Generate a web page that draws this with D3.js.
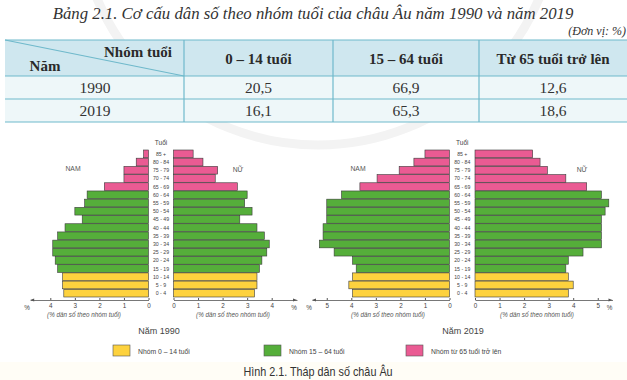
<!DOCTYPE html>
<html>
<head>
<meta charset="utf-8">
<script src="https://cdn.jsdelivr.net/npm/d3@7"></script>
<style>
  html, body { margin: 0; padding: 0; background: #ffffff; }
  svg { display: block; }
</style>
</head>
<body>
<svg id="chart" width="627" height="380"></svg>
<script>
// ---------- DATA ----------
const tableTitle = "Bảng 2.1. Cơ cấu dân số theo nhóm tuổi của châu Âu năm 1990 và năm 2019";
const tableUnit = "(Đơn vị: %)";
const tableColumns = ["0 – 14  tuổi", "15 – 64 tuổi", "Từ 65 tuổi trở lên"];
const tableYears = ["1990", "2019"];
const share0to14 = [20.5, 16.1];
const share15to64 = [66.9, 65.3];
const share65plus = [12.6, 18.6];

const ageGroups = ["0 - 4", "5 - 9", "10 - 14", "15 - 19", "20 - 24", "25 - 29", "30 - 34",
  "35 - 39", "40 - 44", "45 - 49", "50 - 54", "55 - 59", "60 - 64", "65 - 69", "70 - 74",
  "75 - 79", "80 - 84", "85 +"];
const male1990   = [3.45, 3.5, 3.5, 3.7, 3.8, 3.9, 3.9, 3.7, 3.4, 2.7, 3.0, 2.6, 2.5, 1.8, 1.0, 1.0, 0.5, 0.2];
const female1990 = [3.3, 3.4, 3.4, 3.5, 3.6, 3.8, 3.9, 3.7, 3.4, 2.7, 3.2, 2.9, 3.0, 2.6, 1.7, 1.8, 1.2, 0.8];
const male2019   = [3.95, 4.1, 3.95, 3.8, 3.95, 4.7, 5.3, 5.15, 5.15, 5.0, 5.0, 5.0, 4.4, 3.65, 2.95, 2.05, 1.45, 1.0];
const female2019 = [3.8, 4.0, 3.8, 3.7, 3.8, 4.4, 5.15, 5.15, 5.15, 5.15, 5.3, 5.45, 5.15, 4.55, 3.7, 2.95, 2.65, 2.35];
const groupOfAge = ["young", "young", "young", "work", "work", "work", "work", "work", "work",
  "work", "work", "work", "work", "old", "old", "old", "old", "old"];
const legendKeys = ["young", "work", "old"];
const legendLabels = ["Nhóm 0 – 14 tuổi", "Nhóm 15 – 64 tuổi", "Nhóm từ 65 tuổi trở lên"];
const ticks1990 = [0, 1, 2, 3, 4];
const ticks2019 = [0, 1, 2, 3, 4, 5];
const figureCaption = "Hình 2.1. Tháp dân số châu Âu";

// ---------- SETUP ----------
const svg = d3.select("#chart");
const color = d3.scaleOrdinal().domain(legendKeys).range(["#fdd23e", "#55ae3a", "#ea5b93"]);
const serif = "'Liberation Serif', 'DejaVu Serif', serif";
const sans = "'Liberation Sans', Arial, sans-serif";

// faint watermark arc
svg.append("circle").attr("cx", 318).attr("cy", -95).attr("r", 240)
  .attr("fill", "none").attr("stroke", "#f3f3f3").attr("stroke-width", 9);
svg.append("rect").attr("x", 0).attr("y", 362).attr("width", 627).attr("height", 18).attr("fill", "#fffdf6");

// ---------- TABLE ----------
svg.append("text").attr("x", 313).attr("y", 19).attr("text-anchor", "middle")
  .attr("font-family", serif).attr("font-style", "italic").attr("font-size", 16.8)
  .attr("fill", "#333").text(tableTitle);
svg.append("text").attr("x", 626).attr("y", 35).attr("text-anchor", "end")
  .attr("font-family", serif).attr("font-style", "italic").attr("font-size", 12)
  .attr("fill", "#333").text(tableUnit);

const colEdges = [5, 184, 333, 479, 627];
const rowEdges = [40, 76, 99, 122];
const tbl = svg.append("g");
tbl.append("rect").attr("x", colEdges[0]).attr("y", rowEdges[0]).attr("width", colEdges[4] - colEdges[0])
  .attr("height", rowEdges[1] - rowEdges[0]).attr("fill", "#cfe7ef");
tbl.append("rect").attr("x", colEdges[0]).attr("y", rowEdges[1]).attr("width", colEdges[4] - colEdges[0])
  .attr("height", rowEdges[3] - rowEdges[1]).attr("fill", "#eef7f9");
const lineColor = "#6fb9cb";
rowEdges.forEach(y => tbl.append("line").attr("x1", colEdges[0]).attr("x2", colEdges[4])
  .attr("y1", y).attr("y2", y).attr("stroke", lineColor).attr("stroke-width", 1.2));
colEdges.slice(1, 4).forEach(x => tbl.append("line").attr("x1", x).attr("x2", x)
  .attr("y1", rowEdges[0]).attr("y2", rowEdges[3]).attr("stroke", lineColor).attr("stroke-width", 1.2));
tbl.append("line").attr("x1", colEdges[0]).attr("y1", rowEdges[0]).attr("x2", colEdges[1]).attr("y2", rowEdges[1])
  .attr("stroke", lineColor).attr("stroke-width", 1.2);

tbl.append("text").attr("x", 138).attr("y", 57).attr("text-anchor", "middle")
  .attr("font-family", serif).attr("font-weight", "bold").attr("font-size", 15).attr("fill", "#2a2a2a").text("Nhóm tuổi");
tbl.append("text").attr("x", 45).attr("y", 71).attr("text-anchor", "middle")
  .attr("font-family", serif).attr("font-weight", "bold").attr("font-size", 15).attr("fill", "#2a2a2a").text("Năm");
tableColumns.forEach((c, i) => {
  tbl.append("text").attr("x", (colEdges[i + 1] + colEdges[i + 2]) / 2).attr("y", 64)
    .attr("text-anchor", "middle").attr("font-family", serif).attr("font-weight", "bold")
    .attr("font-size", 15).attr("fill", "#2a2a2a").text(c);
});
const fmt = v => d3.format(".1f")(v).replace(".", ",");
tableYears.forEach((yr, r) => {
  const yText = (rowEdges[r + 1] + rowEdges[r + 2]) / 2 + 5;
  const vals = [yr, fmt(share0to14[r]), fmt(share15to64[r]), fmt(share65plus[r])];
  vals.forEach((v, c) => {
    const cx = c === 0 ? 95 : (colEdges[c] + colEdges[c + 1]) / 2;
    tbl.append("text").attr("x", cx).attr("y", yText).attr("text-anchor", "middle")
      .attr("font-family", serif).attr("font-size", 15.5).attr("fill", "#333").text(v);
  });
});

// ---------- PYRAMIDS ----------
const yBand = d3.scaleBand().domain(ageGroups.slice().reverse()).range([150, 297]).paddingInner(0.06);
const axisY = 300;
const pxPerPct = 24.55;

function drawPyramid(cfg) {
  const g = svg.append("g");
  const xM = d3.scaleLinear().domain([0, cfg.maxL]).range([cfg.zeroL, cfg.zeroL - cfg.maxL * pxPerPct]);
  const xF = d3.scaleLinear().domain([0, cfg.maxR]).range([cfg.zeroR, cfg.zeroR + cfg.maxR * pxPerPct]);

  g.selectAll(".m").data(cfg.male).join("rect")
    .attr("x", d => xM(d)).attr("width", d => xM(0) - xM(d))
    .attr("y", (d, i) => yBand(ageGroups[i])).attr("height", yBand.bandwidth())
    .attr("fill", (d, i) => color(groupOfAge[i])).attr("stroke", "#3a3a3a").attr("stroke-width", 0.6);
  g.selectAll(".f").data(cfg.female).join("rect")
    .attr("x", xF(0)).attr("width", d => xF(d) - xF(0))
    .attr("y", (d, i) => yBand(ageGroups[i])).attr("height", yBand.bandwidth())
    .attr("fill", (d, i) => color(groupOfAge[i])).attr("stroke", "#3a3a3a").attr("stroke-width", 0.6);

  const mid = (cfg.zeroL + cfg.zeroR) / 2;
  g.selectAll(".age").data(ageGroups).join("text")
    .attr("x", mid).attr("y", d => yBand(d) + yBand.bandwidth() / 2 + 2)
    .attr("text-anchor", "middle").attr("font-family", sans).attr("font-size", 5.2).attr("fill", "#444").text(d => d);
  g.append("text").attr("x", mid).attr("y", 145).attr("text-anchor", "middle")
    .attr("font-family", sans).attr("font-size", 6.5).attr("fill", "#444").text("Tuổi");

  const axL = d3.axisBottom(xM).tickValues(cfg.ticks).tickFormat(d3.format("d")).tickSize(-2).tickSizeOuter(0).tickPadding(4);
  const axR = d3.axisBottom(xF).tickValues(cfg.ticks).tickFormat(d3.format("d")).tickSize(-2).tickSizeOuter(0).tickPadding(4);
  [axL, axR].forEach(ax => {
    const a = g.append("g").attr("transform", `translate(0,${axisY})`).call(ax);
    a.select(".domain").attr("stroke", "#555").attr("stroke-width", 0.8);
    a.selectAll(".tick line").attr("stroke", "#555");
    a.selectAll(".tick text").attr("font-family", sans).attr("font-size", 6.3).attr("fill", "#444");
  });
  // arrow heads
  const lx = xM(cfg.maxL), rx = xF(cfg.maxR);
  g.append("path").attr("d", `M${lx},${axisY} l4,-1.6 l0,3.2 Z`).attr("fill", "#555");
  g.append("path").attr("d", `M${rx},${axisY} l-4,-1.6 l0,3.2 Z`).attr("fill", "#555");
  g.append("text").attr("x", lx - 3).attr("y", axisY + 10).attr("text-anchor", "middle")
    .attr("font-family", sans).attr("font-size", 6.3).attr("fill", "#444").text("%");
  g.append("text").attr("x", rx - 3).attr("y", axisY + 10).attr("text-anchor", "middle")
    .attr("font-family", sans).attr("font-size", 6.3).attr("fill", "#444").text("%");

  [cfg.subL, cfg.subR].forEach(x => g.append("text").attr("x", x).attr("y", 317).attr("text-anchor", "middle")
    .attr("font-family", sans).attr("font-style", "italic").attr("font-size", 6.3).attr("fill", "#555")
    .text("(% dân số theo nhóm tuổi)"));
  g.append("text").attr("x", cfg.namX).attr("y", 171).attr("text-anchor", "middle")
    .attr("font-family", sans).attr("font-size", 6.8).attr("fill", "#555").text("NAM");
  g.append("text").attr("x", cfg.nuX).attr("y", 172).attr("text-anchor", "middle")
    .attr("font-family", sans).attr("font-size", 6.8).attr("fill", "#555").text("NỮ");
  g.append("text").attr("x", cfg.yearX).attr("y", 334).attr("text-anchor", "middle")
    .attr("font-family", sans).attr("font-size", 9).attr("fill", "#444").text(cfg.year);
}

drawPyramid({ male: male1990, female: female1990, zeroL: 148.5, zeroR: 173.5, maxL: 4.82, maxR: 5.03,
  ticks: ticks1990, subL: 84, subR: 233, namX: 73, nuX: 238, yearX: 159, year: "Năm 1990" });
drawPyramid({ male: male2019, female: female2019, zeroL: 449.5, zeroR: 475, maxL: 5.6, maxR: 5.6,
  ticks: ticks2019, subL: 388, subR: 537, namX: 358, nuX: 582, yearX: 463, year: "Năm 2019" });

// ---------- LEGEND ----------
const legendX = [113, 264, 406];
const lg = svg.append("g");
legendKeys.forEach((k, i) => {
  lg.append("rect").attr("x", legendX[i]).attr("y", 345).attr("width", 17).attr("height", 11)
    .attr("fill", color(k)).attr("stroke", "#555").attr("stroke-width", 0.6);
  lg.append("text").attr("x", legendX[i] + 25).attr("y", 353.5)
    .attr("font-family", sans).attr("font-size", 6.8).attr("fill", "#444").text(legendLabels[i]);
});
svg.append("text").attr("x", 318).attr("y", 376).attr("text-anchor", "middle")
  .attr("font-family", sans).attr("font-size", 12).attr("fill", "#333")
  .attr("transform", "translate(318,0) scale(0.9,1) translate(-318,0)").text(figureCaption);
</script>
</body>
</html>
